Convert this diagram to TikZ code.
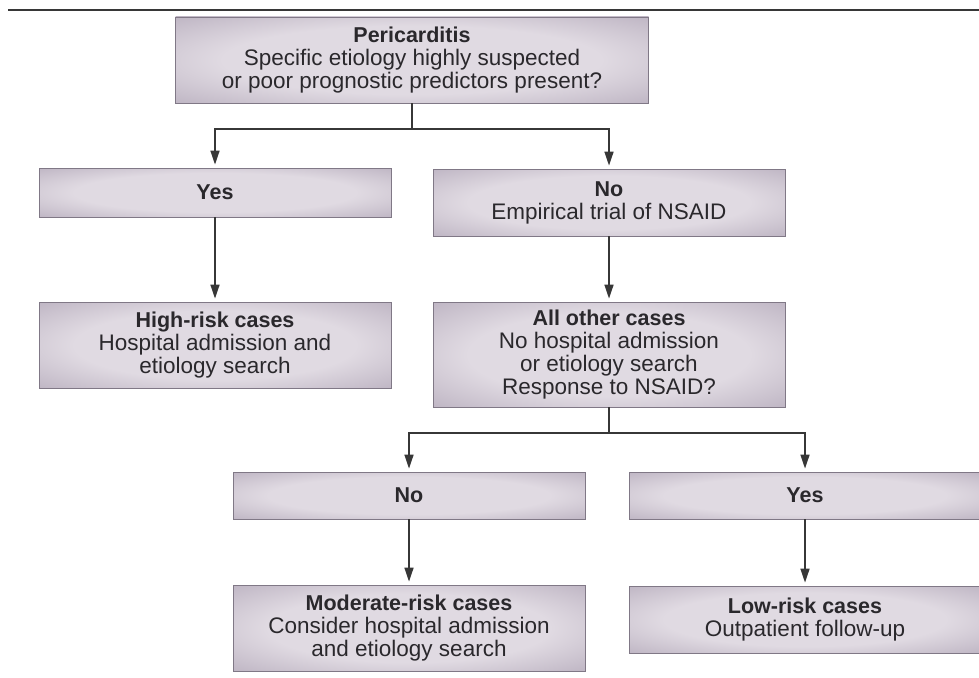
\documentclass[tikz,border=0pt]{standalone}
\usepackage{fontspec}
\setmainfont{Liberation Sans}
\usetikzlibrary{arrows.meta}
\definecolor{boxlight}{RGB}{224,218,226}
\definecolor{boxdark}{RGB}{160,148,168}
\definecolor{boxedge}{RGB}{128,120,134}
\definecolor{inkgray}{RGB}{42,40,44}
\definecolor{linegray}{RGB}{55,55,55}
\pgfdeclareradialshading{boxshade}{\pgfpoint{0bp}{0bp}}{color(0bp)=(boxlight); color(20bp)=(boxlight); color(50bp)=(boxdark); color(75bp)=(boxdark)}
\newcommand{\hd}[1]{{\fontsize{21.5}{23}\selectfont\bfseries #1}}
\begin{document}
\begin{tikzpicture}[x=1pt,y=-1pt,
  box/.style={rectangle, draw=boxedge, line width=0.8pt, shade, shading=boxshade,
    minimum width=352pt, inner sep=0pt, align=center, text=inkgray,
    font=\fontsize{22.5}{23}\selectfont},
  conn/.style={draw=linegray, line width=1.6pt},
  arr/.style={conn, -{Triangle[length=14pt,width=9pt]}, shorten >=3pt}]
\useasboundingbox (0,0) rectangle (979,677);
\fill[white] (0,0) rectangle (979,677);
\draw[line width=1.5pt, draw=linegray] (8,10) -- (979,10);

\node[box, minimum width=473pt, minimum height=86pt] (top) at (412,60)
  {\hd{Pericarditis}\\Specific etiology highly suspected\\or poor prognostic predictors present?};
\node[box, minimum height=49pt] (yes1) at (215,192.5) {\hd{Yes}};
\node[box, minimum height=67pt] (no1) at (609,202.5) {\hd{No}\\Empirical trial of NSAID};
\node[box, minimum height=86pt] (high) at (215,345)
  {\hd{High-risk cases}\\Hospital admission and\\etiology search};
\node[box, minimum height=105pt] (all) at (609,354.5)
  {\hd{All other cases}\\No hospital admission\\or etiology search\\Response to NSAID?};
\node[box, minimum height=47pt] (no2) at (409,495.5) {\hd{No}};
\node[box, minimum height=47pt] (yes2) at (805,495.5) {\hd{Yes}};
\node[box, minimum height=86pt] (mod) at (409,628)
  {\hd{Moderate-risk cases}\\Consider hospital admission\\and etiology search};
\node[box, minimum height=67pt] (low) at (805,619.5)
  {\hd{Low-risk cases}\\Outpatient follow-up};

\coordinate (j1) at (412,129);
\draw[conn] (top.south) -- (j1);
\draw[arr] (j1) -| (yes1.north);
\draw[arr] (j1) -| (no1.north);
\draw[arr] (yes1.south) -- (high.north);
\draw[arr] (no1.south) -- (all.north);
\coordinate (j2) at (609,433);
\draw[conn] (all.south) -- (j2);
\draw[arr] (j2) -| (no2.north);
\draw[arr] (j2) -| (yes2.north);
\draw[arr] (no2.south) -- (mod.north);
\draw[arr] (yes2.south) -- (low.north);
\end{tikzpicture}
\end{document}
